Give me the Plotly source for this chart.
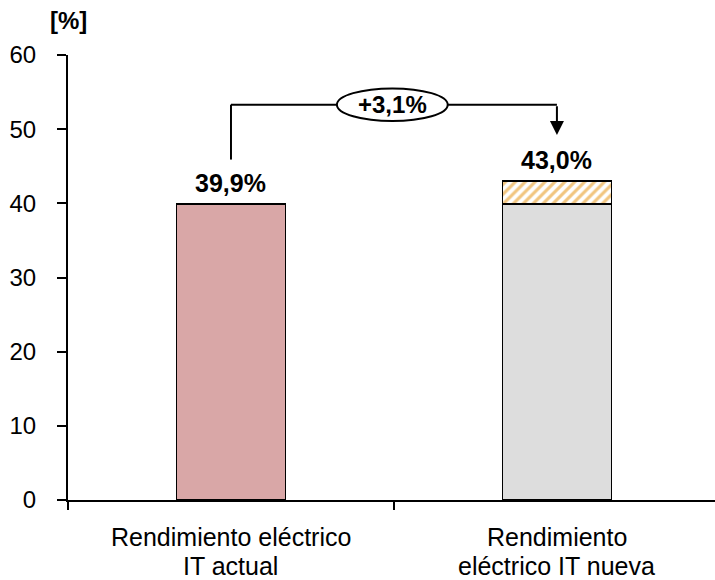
import plotly.graph_objects as go

# Chart data
categories = ["Rendimiento eléctrico IT actual", "Rendimiento eléctrico IT nueva"]
label_lines = [["Rendimiento eléctrico", "IT actual"], ["Rendimiento", "eléctrico IT nueva"]]
base_values = [39.9, 39.9]
gain_values = [0.0, 3.1]
totals = [39.9, 43.0]
y_ticks = [0, 10, 20, 30, 40, 50, 60]

FONT = "Liberation Sans, Arial, sans-serif"


def pct(v):
    return f"{v:.1f}%".replace(".", ",")


fig = go.Figure()

fig.add_trace(go.Bar(
    x=categories, y=base_values, width=0.334,
    marker=dict(color=["#D9A7A7", "#DDDDDD"], line=dict(color="black", width=1.5)),
    hoverinfo="skip",
))
fig.add_trace(go.Bar(
    x=categories, y=gain_values, width=0.334,
    marker=dict(color="white", line=dict(color="black", width=1.5),
                pattern=dict(shape="/", fgcolor="#E38B00", bgcolor="white", size=7, solidity=0.45)),
    hoverinfo="skip",
))

annotations = []
# value labels above bars
for i, v in enumerate(totals):
    annotations.append(dict(x=i, y=v, xref="x", yref="y", text=f"<b>{pct(v)}</b>",
                            showarrow=False, yanchor="middle", yshift=21,
                            font=dict(size=25, color="black", family=FONT)))

# category labels (two lines each)
for i, lines in enumerate(label_lines):
    for j, line in enumerate(lines):
        annotations.append(dict(x=i, y=0, xref="x", yref="y", text=line, showarrow=False,
                                yanchor="middle", yshift=-37 - 29 * j,
                                font=dict(size=25, color="black", family=FONT)))

# bracket connecting the two bars
bracket_y = 53.3
start_y = 45.9
arrow_tip = 49.2
shapes = [
    dict(type="line", xref="x", yref="y", x0=0, x1=0, y0=start_y, y1=bracket_y,
         line=dict(color="black", width=2)),
    dict(type="line", xref="x", yref="y", x0=0, x1=1, y0=bracket_y, y1=bracket_y,
         line=dict(color="black", width=2)),
    dict(type="circle", xref="x", yref="y", x0=0.325, x1=0.665, y0=bracket_y - 2.2, y1=bracket_y + 2.2,
         line=dict(color="black", width=2), fillcolor="white"),
]
annotations.append(dict(x=1, y=arrow_tip, ax=1, ay=bracket_y, xref="x", yref="y",
                        axref="x", ayref="y", text="", showarrow=True, arrowhead=2,
                        arrowsize=1.4, arrowwidth=2, arrowcolor="black"))
annotations.append(dict(x=0.495, y=bracket_y, xref="x", yref="y",
                        text=f"<b>+{pct(totals[1] - totals[0])}</b>", showarrow=False,
                        yanchor="middle", font=dict(size=24, color="black", family=FONT)))

# axis unit
annotations.append(dict(x=0, y=1.078, xref="x domain", yref="y domain", text="<b>[%]</b>",
                        showarrow=False, xanchor="center", yanchor="middle",
                        font=dict(size=24, color="black", family=FONT)))

fig.update_layout(
    barmode="stack",
    width=715, height=580,
    margin=dict(l=68, r=0, t=55, b=80),
    plot_bgcolor="white", paper_bgcolor="white",
    showlegend=False,
    font=dict(family=FONT, size=24, color="black"),
    shapes=shapes,
    annotations=annotations,
    xaxis=dict(type="category", range=[-0.5, 1.485], showline=True, linecolor="black", linewidth=2,
               ticks="outside", tickson="boundaries", ticklen=8, tickwidth=2, tickcolor="black",
               showticklabels=False, showgrid=False, zeroline=False, fixedrange=True),
    yaxis=dict(range=[0, 60], tickvals=y_ticks, showline=True, linecolor="black", linewidth=2,
               ticks="outside", ticklen=9, tickwidth=2, tickcolor="black",
               ticklabelstandoff=16, showgrid=False, zeroline=False,
               tickfont=dict(size=24, family=FONT, color="black")),
)

fig.write_html("out.html")
